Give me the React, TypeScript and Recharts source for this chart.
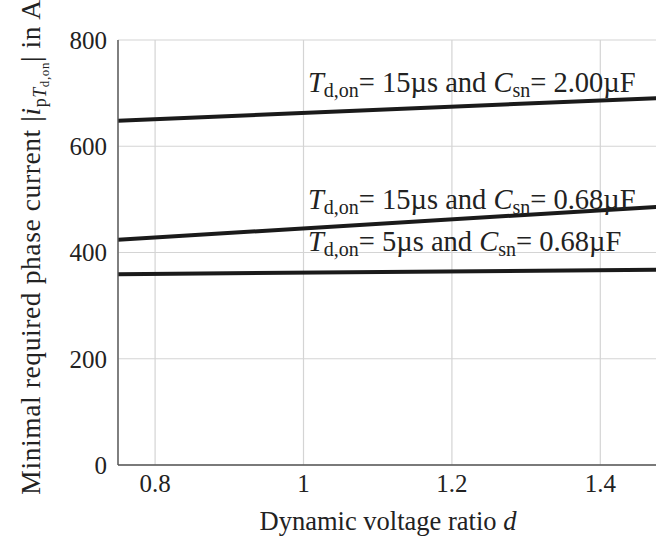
import React from "react";
import {
  LineChart,
  Line,
  XAxis,
  YAxis,
  CartesianGrid,
  ReferenceDot,
} from "recharts";

const FONT = '"Liberation Serif", "DejaVu Serif", serif';
const INK = "#222";

// dynamic voltage ratio d (line endpoints)
const dRatio = [0.75, 1.5];
// minimal phase current in A for each dead time / snubber combination
const current15us200uF = [648, 692];
const current15us068uF = [424, 488];
const current5us068uF = [359, 368];

const xTicks = [0.8, 1, 1.2, 1.4];
const yTicks = [0, 200, 400, 600, 800];

// annotation anchors (d, i) and their parameters
const annDelay = ["15", "15", "5"];
const annCap = ["2.00", "0.68", "0.68"];
const annD = [1.006, 1.006, 1.006];
const annI = [702, 482, 403];

const data = dRatio.map((d, k) => ({
  d,
  a: current15us200uF[k],
  b: current15us068uF[k],
  c: current5us068uF[k],
}));

const Annotation = ({ cx, cy, delay, cap }: any) => (
  <text x={cx} y={cy} fontSize={28.5} fill={INK} fontFamily={FONT}>
    <tspan fontStyle="italic">T</tspan>
    <tspan fontSize={20} dy={5}>d,on</tspan>
    <tspan dy={-5}>= {delay}µs and </tspan>
    <tspan fontStyle="italic">C</tspan>
    <tspan fontSize={20} dy={5}>sn</tspan>
    <tspan dy={-5}>= {cap}µF</tspan>
  </text>
);

const YLabel = () => (
  <text
    x={0}
    y={0}
    transform="translate(40,247) rotate(-90)"
    textAnchor="middle"
    fontSize={27.5}
    letterSpacing={0.6}
    fill={INK}
    fontFamily={FONT}
  >
    <tspan>Minimal required phase current |</tspan>
    <tspan fontStyle="italic">i</tspan>
    <tspan fontSize={18} dy={6}>p</tspan>
    <tspan fontSize={18} fontStyle="italic">T</tspan>
    <tspan fontSize={13} dy={3}>d,on</tspan>
    <tspan dy={-9}>| in A</tspan>
  </text>
);

const XLabel = () => (
  <text
    x={388}
    y={530}
    textAnchor="middle"
    fontSize={26.5}
    fill={INK}
    fontFamily={FONT}
  >
    Dynamic voltage ratio <tspan fontStyle="italic">d</tspan>
  </text>
);

export default function App() {
  return (
    <div
      style={{
        position: "absolute",
        left: 0,
        top: 0,
        width: 656,
        height: 545,
        overflow: "hidden",
        background: "#fff",
      }}
    >
      <LineChart
        width={680}
        height={545}
        data={data}
        margin={{ top: 40, right: 5.5, bottom: 0, left: 0 }}
      >
        <CartesianGrid stroke="#d4d4d4" strokeWidth={1.2} />
        <XAxis
          dataKey="d"
          type="number"
          domain={[0.75, 1.5]}
          ticks={xTicks}
          allowDataOverflow
          height={80}
          tickLine={false}
          tickMargin={3}
          axisLine={{ stroke: "#555", strokeWidth: 1.4 }}
          tick={{ fontSize: 25, fill: INK, fontFamily: FONT }}
          label={{ content: () => <XLabel /> }}
        />
        <YAxis
          type="number"
          domain={[0, 800]}
          ticks={yTicks}
          width={118}
          tickLine={false}
          tickMargin={5}
          axisLine={{ stroke: "#555", strokeWidth: 1.4 }}
          tick={{ fontSize: 25, fill: INK, fontFamily: FONT }}
          label={{ content: () => <YLabel /> }}
        />
        <Line
          dataKey="a"
          stroke="#1a1a1a"
          strokeWidth={4}
          dot={false}
          isAnimationActive={false}
        />
        <Line
          dataKey="b"
          stroke="#1a1a1a"
          strokeWidth={4}
          dot={false}
          isAnimationActive={false}
        />
        <Line
          dataKey="c"
          stroke="#1a1a1a"
          strokeWidth={4}
          dot={false}
          isAnimationActive={false}
        />
        {annD.map((d, k) => (
          <ReferenceDot
            key={k}
            x={d}
            y={annI[k]}
            ifOverflow="visible"
            shape={(p: any) => (
              <Annotation
                cx={p.cx}
                cy={p.cy}
                delay={annDelay[k]}
                cap={annCap[k]}
              />
            )}
          />
        ))}
      </LineChart>
    </div>
  );
}
